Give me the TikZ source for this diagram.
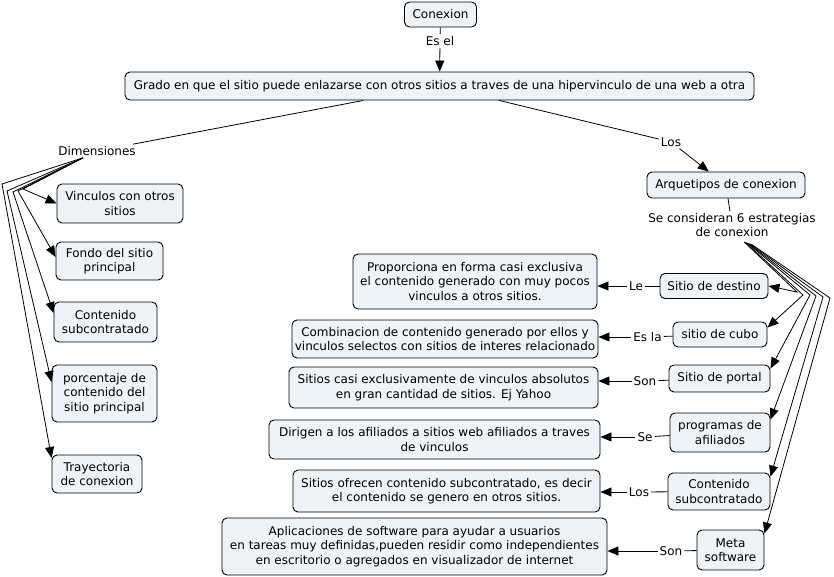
\documentclass[tikz,border=0pt]{standalone}
\usepackage{fontspec}
\setmainfont{DejaVu Sans}
\usetikzlibrary{arrows.meta,calc}
\definecolor{boxfill}{HTML}{EDF3F6}
\begin{document}
\begin{tikzpicture}[x=1pt,y=-1pt,
  box/.style={draw=black, line width=0.9pt, fill=boxfill, rounded corners=5pt, align=center, inner sep=0pt, font=\fontsize{12}{14.5}\selectfont},
  sz/.style 2 args={minimum width=#1pt, minimum height=#2pt},
  lbl/.style={align=center, inner sep=2pt, font=\fontsize{12}{14}\selectfont},
  link/.style={line width=0.8pt},
  arr/.style={line width=0.8pt, -{Triangle[length=11pt,width=9pt]}},
]
\fill[white] (0,0) rectangle (834,577);
\useasboundingbox (0,0) rectangle (834,577);

% top
\node[box, sz={72}{25}] (conexion) at (440.5,14.5) {Conexion};
\node[lbl] (esel) at (440,41) {Es el};
\node[box, sz={629}{28}] (main) at (439.5,86) {Grado en que el sitio puede enlazarse con otros sitios a traves de una hipervinculo de una web a otra};
\node[lbl] (dimensiones) at (97,151) {Dimensiones};
\node[lbl] (los1) at (671,142) {Los};
\node[box, sz={158}{26}] (arquetipos) at (726,185) {Arquetipos de conexion};
\node[lbl] (seconsideran) at (732,225) {Se consideran 6 estrategias\\de conexion};

% left column
\node[box, sz={126}{39}] (vinculos) at (120,203.5) {Vinculos con otros\\sitios};
\node[box, sz={107}{38}] (fondo) at (109.5,261) {Fondo del sitio\\principal};
\node[box, sz={103}{40}] (contenidoA) at (105.5,322) {Contenido\\subcontratado};
\node[box, sz={105}{57}] (porcentaje) at (104.5,393.5) {porcentaje de\\contenido del\\sitio principal};
\node[box, sz={90}{38}] (trayectoria) at (97,474) {Trayectoria\\de conexion};

% right column
\node[box, sz={108}{25}] (destino) at (714,286) {Sitio de destino};
\node[box, sz={94}{25}] (cubo) at (720,334.5) {sitio de cubo};
\node[box, sz={101}{27}] (portal) at (719.5,378.5) {Sitio de portal};
\node[box, sz={100}{39}] (programas) at (720,432.5) {programas de\\afiliados};
\node[box, sz={102}{37}] (contenidoB) at (719,491.5) {Contenido\\subcontratado};
\node[box, sz={67}{40}] (meta) at (730.5,550) {Meta\\software};

% middle column
\node[box, sz={244}{55}] (proporciona) at (475,281.5) {Proporciona en forma casi exclusiva\\el contenido generado con muy pocos\\vinculos a otros sitios.};
\node[box, sz={306}{38}] (combinacion) at (445,339) {Combinacion de contenido generado por ellos y\\vinculos selectos con sitios de interes relacionado};
\node[box, sz={309}{41}] (sitioscasi) at (443.5,387.5) {Sitios casi exclusivamente de vinculos absolutos\\en gran cantidad de sitios. Ej Yahoo};
\node[box, sz={331}{39}] (dirigen) at (434.5,439.5) {Dirigen a los afiliados a sitios web afiliados a traves\\de vinculos};
\node[box, sz={307}{42}] (ofrecen) at (446.5,491) {Sitios ofrecen contenido subcontratado, es decir\\el contenido se genero en otros sitios.};
\node[box, sz={385}{57}] (aplicaciones) at (414.5,546.5) {Aplicaciones de software para ayudar a usuarios\\en tareas muy definidas,pueden residir como independientes\\en escritorio o agregados en visualizador de internet};

% linking phrases
\node[lbl] (le) at (636,286) {Le};
\node[lbl] (esla) at (647.5,337) {Es la};
\node[lbl] (sonA) at (645,381) {Son};
\node[lbl] (se) at (645,437) {Se};
\node[lbl] (losB) at (639,492) {Los};
\node[lbl] (sonB) at (671,551) {Son};

% top connectors
\draw[link] (conexion) -- (esel);
\draw[arr] (esel) -- (main);
\draw[link] (main) -- (dimensiones);
\draw[link] (main) -- (los1);
\draw[arr] (los1) -- (arquetipos);
\draw[link] (arquetipos) -- (seconsideran);

% left fan
\coordinate (ds) at ([xshift=-14pt]dimensiones.south);
\coordinate (lb1) at (23,189);
\coordinate (lb2) at (18,191);
\coordinate (lb3) at (13,192);
\coordinate (lb4) at (7,191);
\coordinate (lb5) at (2,184);
\draw[arr] (ds) -- (lb1) -- (vinculos.west);
\draw[arr] (ds) -- (lb2) -- ([yshift=4pt]fondo.west);
\draw[arr] (ds) -- (lb3) -- ([yshift=9pt]contenidoA.west);
\draw[arr] (ds) -- (lb4) -- ([yshift=11.5pt]porcentaje.west);
\draw[arr] (ds) -- (lb5) -- ([yshift=16pt]trayectoria.west);

% right fan
\coordinate (rs1) at ([xshift=12pt,yshift=-3pt]seconsideran.south);
\coordinate (rs2) at ([xshift=13.5pt,yshift=-3.5pt]seconsideran.south);
\coordinate (rs3) at ([xshift=15pt,yshift=-4pt]seconsideran.south);
\coordinate (rs4) at ([xshift=16.5pt,yshift=-4.5pt]seconsideran.south);
\coordinate (rs5) at ([xshift=18pt,yshift=-5pt]seconsideran.south);
\coordinate (rs6) at ([xshift=19.5pt,yshift=-5.5pt]seconsideran.south);
\coordinate (rb1) at (797,292);
\coordinate (rb2) at (803,295);
\coordinate (rb3) at (810,295);
\coordinate (rb4) at (816,296);
\coordinate (rb5) at (823,297);
\coordinate (rb6) at (830,298);
\draw[arr] (rs1) -- (rb1) -- (destino.east);
\draw[arr] (rs2) -- (rb2) -- ([yshift=-6pt]cubo.north east);
\draw[arr] (rs3) -- (rb3) -- ([yshift=-4pt]portal.north east);
\draw[arr] (rs4) -- (rb4) -- ([yshift=-7pt]programas.north east);
\draw[arr] (rs5) -- (rb5) -- ([yshift=-4pt]contenidoB.north east);
\draw[arr] (rs6) -- (rb6) -- ([yshift=-4pt]meta.north east);

% linking phrase connectors
\draw[link] (destino) -- (le);
\draw[arr] (le) -- (proporciona.east |- le);
\draw[link] (cubo) -- (esla);
\draw[arr] (esla) -- (combinacion.east |- esla);
\draw[link] (portal) -- (sonA);
\draw[arr] (sonA) -- (sitioscasi.east |- sonA);
\draw[link] (programas) -- (se);
\draw[arr] (se) -- (dirigen.east |- se);
\draw[link] (contenidoB) -- (losB);
\draw[arr] (losB) -- (ofrecen.east |- losB);
\draw[link] (meta) -- (sonB);
\draw[arr] (sonB) -- (aplicaciones.east |- sonB);
\end{tikzpicture}
\end{document}
